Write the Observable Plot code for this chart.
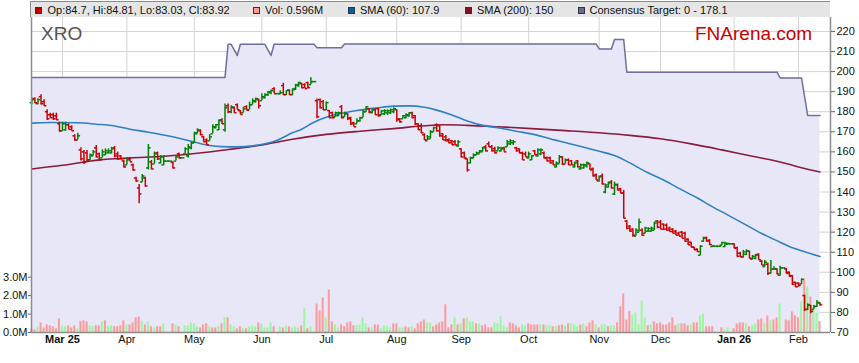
<!DOCTYPE html>
<html>
<head>
<meta charset="utf-8">
<script src="https://cdn.jsdelivr.net/npm/d3@7"></script>
<script src="https://cdn.jsdelivr.net/npm/@observablehq/plot@0.6"></script>
<style>
html,body{margin:0;padding:0;background:#fff;}
#chart{position:relative;width:859px;height:363px;overflow:hidden;font-family:"Liberation Sans",Arial,sans-serif;}
#chart svg{position:absolute;left:0;top:0;}
#legend{position:absolute;left:30px;top:1px;width:800px;height:16px;background:#e5e5e5;border-top:1.5px solid #8c8c8c;border-left:1.5px solid #8c8c8c;box-sizing:border-box;}
.lt{position:absolute;top:3px;font-size:11px;line-height:14px;color:#111;white-space:nowrap;}
.sw{position:absolute;top:7px;width:7px;height:7px;border:1px solid #333;box-sizing:border-box;}
.brand{position:absolute;white-space:nowrap;line-height:19px;font-size:19px;}
</style>
</head>
<body>
<div id="chart"></div>
<script>
// ---- Daily data, one entry per weekday starting Mon 17 Feb 2025 (holidays = flat bar, no volume)
const open = [
184.5,186.5,184,187.5,185,180,178.5,178.5,178,174,
170.5,171,173.5,172.5,168,166,161,160,159.5,156,
158,162,159,157,158.5,159.5,159.5,162,159,158,
155.5,153.5,156.5,153.5,147,142,145,147,152,155,
154,159.5,154.5,153.5,155.4,155.4,154.8,155.4,159,157,
159,158,162,164.5,169,170.5,167.5,166,165.5,169,
172,171,176,171,183,180,182,183.5,180.5,179.5,
182.5,181,183.5,185,186,185.5,187,188.5,189.5,191.5,
189,189,193,188.5,190.8,188.5,191.5,193,194,193.5,
194.5,193.5,195,185.5,186,185,181,180.6,179.5,177.5,
178,182.5,177.5,179,177,174.5,174,175.5,177,180,
181.5,179.5,181,181.5,178.5,179,179.5,179.5,180,181,
176.5,176.5,177,178,179.5,178,174,173,168.5,165.5,
166.5,170,173.5,173,169,167.5,166,165.5,165,163,
161.5,159.5,156.5,154.5,157,158.5,159,160,162.5,164,
162.5,161.5,160.5,160.5,162,162.5,164,164.5,162,161.5,
159.5,159,157,156,160.5,158,159,159.5,157,157,
155.5,152.5,154,157.5,154,156,155.5,152.5,155.5,151.5,
152,153,154,151.5,148.5,145.5,148,140,142.5,145,
139,143.5,141.6,139.5,125.5,123,121.5,118,120,121,
119.5,120.5,120.5,121,125.5,125,124,123.5,122,121.5,
120.5,119.5,120,119.5,116.5,115,112.5,111.5,108.5,115.5,
117.3,116,112.8,113,113,113.5,112.8,114,114.2,114.2,
112.3,109.5,107.5,109,110.5,106.5,107,109,105.5,102.8,
104,99.5,101.5,101.5,98.5,102.2,101.7,100,98.4,95,
94.6,94.2,88.4,81.5,83.5,81.5,83,84.7];
const high = [
187,187,186.5,188.5,186,181,179.3,179.3,179.3,174.8,
174.8,174.8,174,173,168.5,169.3,162,160.7,160.7,159,
160.7,163.2,159.4,161,161.5,161.5,162.3,162.7,159.9,158.2,
156,157,157,154,147.4,143.7,148.7,147.4,163.7,155.7,
159.9,159.9,158.2,158.2,155.4,155.4,154.9,158.2,159.4,157,
162,163.7,164.8,169.8,171.5,171,167.7,166.5,168.6,173.5,
173.6,176,176.5,183.9,183.9,183,182.3,183.9,180.6,182.3,
183,184.8,186.4,186.8,186.4,188.9,188.9,190.1,190.8,192,
189,190.5,194.2,190.5,190.9,191.4,193.6,194.7,194.2,193.9,
194.7,196.9,195,186.4,186.4,185.6,184.8,180.6,179.8,179.8,
179.8,183.1,179.8,179,177.3,174.8,176.5,177.3,180.6,182.6,
181.5,181.4,181.4,181.9,180.6,181,180.9,181.4,181.9,181,
176.5,178.1,179,179.5,179.8,178.1,174,174,169,168.2,
170.6,172.3,174,173.1,169,168.2,166.5,165.7,165.7,165.7,
161.5,159.9,156.5,157.4,159,159.9,160.7,162.3,163.2,164.9,
163.2,162.3,162.6,162.3,162.3,165.7,166,165.7,162.3,161.5,
159.9,159.9,159.9,158.2,160.7,161.5,161.5,159.9,157.4,157.4,
155.7,154.9,158.2,157.7,156.5,156.5,155.7,154.9,155.7,154,
154,154.9,154,152,149,148,149,144,145,145.7,
144.9,144,141.8,140.8,125.8,123.3,121.7,121.7,126.6,121.7,
122.5,122.2,122.5,125,125.8,125.8,124.1,124.1,122.5,121.7,
120.8,120,120.3,120,116.7,115,112.5,111.7,113.3,117.5,
117.5,116.2,113.3,113,113,115,115,114.6,114.2,114.2,
112.5,110,110.9,111.2,110.5,108.4,108.9,109.2,105.9,105.9,
104.5,105.9,102.8,101.8,103,102.2,101.9,100.2,98.4,95,
94.8,96.7,88.6,84.3,83.5,83.5,85.9,84.81];
const low = [
183.5,184,183.5,183.3,182.7,175.6,176.8,175.6,175.6,169.8,
170.3,170.3,171,170.3,165.3,166,155.4,153.7,154.9,155.7,
158,156.9,155.4,157,158.2,159,159,157,155.7,156,
152,153.5,154.9,150.3,144.9,134.1,144.9,142.4,151,151,
154,155.7,154,153.2,155.4,155.4,151.5,155.4,156.5,157,
159,157,161,164.3,169,168,164.8,163.3,165.4,169,
171.5,170.6,173.6,169.8,179,179,179.3,180.9,178.5,179.5,
180.6,181,183.5,184.3,181.4,185.5,186.4,187.6,188.4,188.9,
189,188.5,188.1,188.1,188.1,188.1,190.6,192.2,191.4,191.4,
191.4,193.5,195,176.5,181.4,180.6,180.6,176.5,176.5,177.3,
177.6,176.5,177.3,175.6,173.1,172.3,174,174.8,177,179.8,
179,179,178.1,177.3,178.1,178.1,178.1,178.6,179,174.8,
174.3,176.5,176.5,177.3,176.5,173.1,170.6,169,165.7,165.5,
166.5,169.8,169.8,167.3,165.7,164.9,164,163.2,163.2,162.3,
157,156.5,149.9,154,156.5,158.2,159,159.9,159.9,162.3,
159.9,159,160.4,159.9,159.9,162.3,163.2,163.2,159.9,159,
155.7,157.4,156.5,155.7,158.2,157.4,158.2,156.5,154.9,154,
153.2,152,154,153.2,154,153.2,153.2,152,152,151,
151.5,152,150.7,147.5,145.7,145,143.5,139.1,142,141.5,
138.3,140.5,139.1,126.6,121.2,120,117.5,117.9,120,118,
119.2,120,120,120.8,121.7,121.2,120.8,120.5,120,119.2,
118.3,117.8,116.7,115,113.3,112.2,110.9,110,108.4,115,
115,113.3,112.5,113,113,113.3,112.5,113.8,114.2,111.7,
107.5,107.5,107.2,108.4,106.7,106.2,106.2,105.9,103.4,102.6,
98.4,99.2,100.9,98.8,98.2,102.2,99.2,97.6,93.4,92.3,
92.6,94,80.5,81,79.3,81.5,82.5,83.03];
const close = [
186,184.5,186,184,183,176.5,177,176.5,176,170.5,
174,173.5,171.2,170.5,166,168,156.5,155,156,158.5,
160,157.5,156,160,160.5,160.5,161.5,158,156.5,156.5,
152.5,156,155,151,145.5,139,148,143,162,151.5,
159,156.5,157.5,155.4,155.4,155.4,152,157.5,157,157,
161.5,162.5,164.5,169.5,171,168.5,165,163.5,167.5,172.5,
173.5,175.5,174,182,180,182.5,179.5,181,178.6,181.5,
180.7,183.5,185.5,186.5,183,187.5,188.5,190,190.5,189,
189,189.5,188.5,190.5,188.5,191,193.5,194.5,192,191.5,
192,195,195,177.5,182,181,184.5,177,177,179.5,
179.5,177,179,176.5,174,172.5,175.5,177,180,182.5,
180,181,178.5,178,180.5,180.5,180.5,181,181.5,176,
175,178,178.5,179.5,177,174,171,169.5,166,167.5,
170,172,170.5,168,166,165.5,164.5,163.5,163.5,165,
157.5,157,151,157,158.5,159.5,160.5,162,160.5,162.5,
160.5,159.5,162,161.5,160,165,165.5,165,160.5,159.5,
156,157.5,159,158,158.5,161,161,157,155.5,154.5,
153.5,154.5,157.5,154,156,153.5,153.5,154.5,152.5,153.5,
153.5,154.5,151,148,146,147.5,144,143.5,144.5,142,
143.8,141,139.5,127,122,120.5,118.5,121,125,118.5,
122,121.8,122,124.5,122.5,121.5,121.5,121,120.3,119.5,
118.5,118,117,115.5,113.7,112.5,111.2,110.3,113,117,
115.5,113.8,113,113,113,114.8,114.5,114.2,114.2,112,
108,107.8,110.2,110.8,107,108,108.5,106.2,103.6,105,
99.5,101.5,101.8,99.2,102.2,102.2,99.5,98,94,92.8,
93.5,96.5,81.5,83.8,80.5,83,85,83.92];
// volume in millions (null = holiday / halt)
const volume = [
.18,.14,.3,.52,.25,.41,.36,.31,.2,.74,
.36,.31,.36,.25,.36,.2,.6,.63,.58,.36,
.32,.36,.36,.58,.63,.32,.36,.31,.31,.36,
.63,.41,.41,.52,.8,.85,.58,.41,.58,.31,
.25,.31,.31,.47,null,null,.47,.41,.31,null,
.36,.36,.52,.47,.31,.25,.41,.47,.31,.25,
.25,.31,.47,.8,.8,.41,.31,.2,.31,.2,
.2,.31,.36,.31,.52,.47,.25,.25,.52,.31,
null,.31,.25,.36,.31,.25,.31,.25,.36,1.28,
.2,.31,null,1.55,1.17,1.87,.8,2.3,.58,.41,
.25,.41,.31,.52,.58,.36,.36,.41,.8,.47,
.25,.25,.41,.41,.2,.36,.31,.25,.47,.47,
.25,.25,.31,.25,.31,.2,.47,.58,.68,.52,
.52,.31,.41,.52,.58,1.5,.25,.41,.8,.41,
.47,.74,.8,.58,.58,.47,.47,.36,.41,.25,
.25,.52,.47,.85,.36,.25,.52,.47,.36,.25,
.41,.36,.47,.41,.41,.41,.41,.41,.36,.36,
.31,.31,.36,.41,.36,.47,.47,.41,.31,.41,
.47,.31,.52,.63,.41,.25,.41,.41,.31,.36,
.36,.52,1.39,2.09,.68,1.15,.95,1.06,.41,1.71,
.8,.36,.41,.58,.47,.52,.41,.41,.52,.8,
.36,.47,.47,.47,.36,.41,.52,.52,.9,1.0,
.31,.31,.31,null,null,.25,.14,.25,null,.2,
.47,.52,.52,.47,.31,.36,.47,.68,.74,.47,
.9,.63,.68,.8,1.55,null,.68,.63,1.12,.9,
.8,1.66,2.9,2.47,1.93,1.39,1.06,.596];
// volume bar colour as read: g = up day, p = down day
const volDir = ["ppgppppppp","ggpppgpppg","gppgpggppp","pgppppgpgp","gppg--pgp-",
"gggggpppgp","pgpgpggppg","pgggpggggp","-gpgpgggpg","pg-pppgppg",
"gpppppgggg","pgppggggpp","ggppgppppg","gpppppppgp","gpgggpgppp",
"pgggggpppp","ggppppgpgg","pgppgpgggp","gpppgpggpg","gpppppgggg",
"gpgppppppp","pgpppgppgg","ppp--pgg-p","pppgpggppg","pgppg-pppp","pgpgpggp"].join("").split("");

// SMA lines, read at sample days
const sma60Day = [0,6,15,21,27,32,38,43,49,54,58,62,67,72,76,80,85,88,92,96,101,106,112,118,123,128,132,137,142,147,153,158,164,169,175,180,185,191,195,200,206,211,217,222,227,233,238,244,248,252,257];
const sma60Val = [174.3,174.6,174.5,173.8,172.9,171.3,169.8,168.4,166.4,164.5,163.2,162.6,162.5,163,164,165.8,169.5,171.3,174.8,177.2,179.2,180.6,181.8,182.8,182.9,182.2,180.8,178.4,175.4,173.2,171.8,170.3,168.6,166.5,164.2,162.3,160.3,157.6,154.5,150.3,146,141.8,137,132.6,128.5,123.5,119.3,115,112.2,110.2,107.9];
const sma200Day = [0,10,22,32,43,54,64,74,85,96,107,118,128,134,142,152,163,174,185,195,205,215,225,235,244,250,257];
const sma200Val = [151.5,153.3,156,157,157.8,159.3,161.2,163.2,166.3,168.7,170.3,171.6,173,173.5,173.2,172.5,171.6,170.6,169.5,168.2,166.5,164,161,157.8,155,152.5,150];
// Consensus target (step line with shaded area below)
const targetDay = [0,63,64,65,67,68,76,78,79,92,93,101,102,184,185,189,190,193,194,243,244,251,253,257];
const targetVal = [197.1,197.1,213.6,213.6,208,213.6,213.6,208,213.6,213.6,211.9,211.9,213.8,213.8,211.3,211.3,216,216,199.7,199.7,196.8,196.8,178.1,178.1];

// axes
const monthDay = [10,31,53,75,96,119,140,162,185,205,229,250];
const monthLabel = ["Mar 25","Apr","May","Jun","Jul","Aug","Sep","Oct","Nov","Dec","Jan 26","Feb"];
const priceTicks = [70,80,90,100,110,120,130,140,150,160,170,180,190,200,210,220];
const volTicks = [0,1,2,3];

// ---- build
const UP = "#008000", DOWN = "#cc0000";
const bars = open.map((o, i) => ({i, o, h: high[i], l: low[i], c: close[i]}));
const vols = volume.map((v, i) => ({i, v, up: volDir[i] === "g"})).filter(d => d.v != null);
const sma60 = sma60Day.map((i, k) => ({i, v: sma60Val[k]}));
const sma200 = sma200Day.map((i, k) => ({i, v: sma200Val[k]}));
const target = targetDay.map((i, k) => ({i, v: targetVal[k]}));
const months = monthDay.map((i, k) => ({i, label: monthLabel[k], bold: /\d/.test(monthLabel[k])}));

const xDom = [-0.108, 260.43];
const base = {
  width: 859, height: 363, marginLeft: 31, marginRight: 29, marginTop: 17, marginBottom: 31,
  x: {type: "linear", domain: xDom, axis: null},
  style: {background: "transparent", fontFamily: "'Liberation Sans', Arial, sans-serif", fontSize: "11px", color: "#111", overflow: "visible"}
};
const yPrice = {type: "linear", domain: [70, 226.95], axis: null};
const grid = "#d4d4d4";
const col = d => (d.c >= d.o ? UP : DOWN);

const layer1 = Plot.plot({...base, y: yPrice, marks: [
  Plot.ruleY(priceTicks, {stroke: grid, strokeWidth: 1}),
  Plot.ruleX(monthDay, {stroke: grid, strokeWidth: 1}),
  Plot.areaY(target, {x: "i", y1: 70, y2: "v", fill: "#e7e7f7"}),
  Plot.line(target, {x: "i", y: "v", stroke: "#6f6fa0", strokeWidth: 1.5})
]});

const layer2 = Plot.plot({...base, y: {type: "linear", domain: [0, 315 / 18.43], axis: null}, marks: [
  Plot.rect(vols, {x1: d => d.i - 0.33, x2: d => d.i + 0.33, y1: 0, y2: "v", fill: d => (d.up ? "#9ef79e" : "#ff9a9a")}),
  Plot.axisY(volTicks, {anchor: "left", label: null, tickSize: 3, tickPadding: 1, tickFormat: d => d.toFixed(1) + "M", stroke: "#666", fill: "#111"})
]});

const layer3 = Plot.plot({...base, y: yPrice, marks: [
  Plot.line(sma200, {x: "i", y: "v", stroke: "#8b1a3d", strokeWidth: 1.6, curve: "monotone-x"}),
  Plot.line(sma60, {x: "i", y: "v", stroke: "#2f80c2", strokeWidth: 1.6, curve: "monotone-x"}),
  Plot.ruleX(bars, {x: "i", y1: "l", y2: "h", stroke: col, strokeWidth: 1.5}),
  Plot.link(bars, {x1: d => d.i - 0.75, x2: "i", y1: "o", y2: "o", stroke: col, strokeWidth: 1.5}),
  Plot.link(bars, {x1: "i", x2: d => d.i + 0.75, y1: "c", y2: "c", stroke: col, strokeWidth: 1.5}),
  Plot.ruleX([xDom[0]], {stroke: "#8c8c8c", strokeWidth: 1.5}),
  Plot.ruleX([xDom[1]], {stroke: "#8c8c8c", strokeWidth: 1.5}),
  Plot.ruleY([70], {stroke: "#8c8c8c", strokeWidth: 1.5}),
  Plot.axisY(priceTicks, {anchor: "right", label: null, tickSize: 4, tickPadding: 2, stroke: "#666", fill: "#111"}),
  Plot.text(months.filter(d => !d.bold), {x: "i", text: "label", frameAnchor: "bottom", dy: 10, fill: "#111"}),
  Plot.text(months.filter(d => d.bold), {x: "i", text: "label", frameAnchor: "bottom", dy: 10, fill: "#111", fontWeight: "bold"})
]});

const chart = document.getElementById("chart");
chart.append(layer1, layer2, layer3);

// legend bar
const lg = document.createElement("div"); lg.id = "legend"; chart.append(lg);
const last = bars[bars.length - 1];
const legendItems = [
  {sx: 35, tx: 47.5, color: "#c00000", text: `Op:${last.o}, Hi:${last.h}, Lo:${last.l}, Cl:${last.c}`},
  {sx: 253, tx: 265, color: "#ff9a9a", text: `Vol: ${volume[volume.length - 1]}M`},
  {sx: 348, tx: 360, color: "#0062a3", text: `SMA (60): ${sma60Val[sma60Val.length - 1]}`},
  {sx: 465, tx: 477, color: "#80102a", text: `SMA (200): ${sma200Val[sma200Val.length - 1]}`},
  {sx: 578, tx: 589.5, color: "#6a6a9c", text: `Consensus Target: 0 - ${targetVal[targetVal.length - 1]}`}
];
for (const it of legendItems) {
  const s = document.createElement("div"); s.className = "sw";
  s.style.left = it.sx + "px"; s.style.background = it.color; chart.append(s);
  const t = document.createElement("div"); t.className = "lt";
  t.style.left = it.tx + "px"; t.textContent = it.text; chart.append(t);
}
// titles inside the plot
const t1 = document.createElement("div"); t1.className = "brand";
t1.style.left = "41px"; t1.style.top = "24px"; t1.style.color = "#555"; t1.textContent = "XRO"; chart.append(t1);
const t2 = document.createElement("div"); t2.className = "brand";
t2.style.left = "695px"; t2.style.top = "24px"; t2.style.color = "#cc0000"; t2.textContent = "FNArena.com"; chart.append(t2);
</script>
</body>
</html>
